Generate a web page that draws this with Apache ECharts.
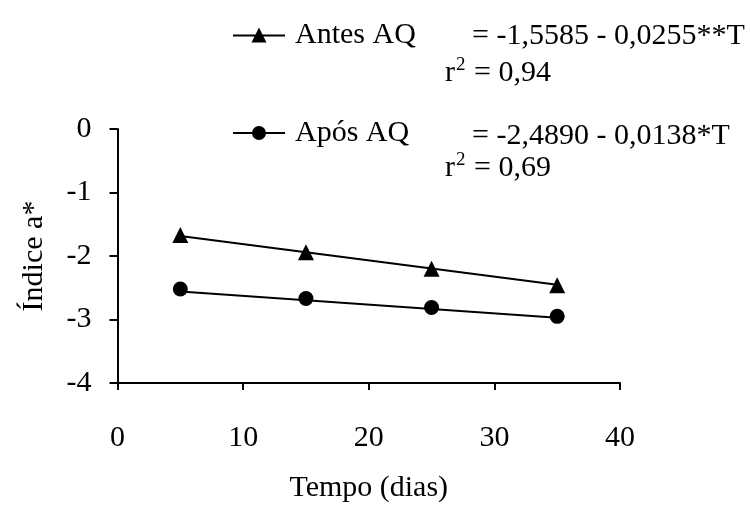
<!DOCTYPE html>
<html>
<head>
<meta charset="utf-8">
<script src="https://cdn.jsdelivr.net/npm/echarts@6/dist/echarts.min.js"></script>
<style>html,body{margin:0;padding:0;background:#fff}#c{width:750px;height:508px}</style>
</head>
<body>
<div id="c"></div>
<script>
var dias = [5, 15, 25, 35];
var antesAQ = [-1.67, -1.94, -2.20, -2.46];
var aposAQ = [-2.52, -2.67, -2.81, -2.95];
var trendX = [5, 35];
var antesTrend = [-1.686, -2.451];
var aposTrend = [-2.558, -2.972];
var xTicks = [0, 10, 20, 30, 40];
var yTicks = [0, -1, -2, -3, -4];
var eqAntes = ['= -1,5585 - 0,0255**T', '0,94'];
var eqApos = ['= -2,4890 - 0,0138*T', '0,69'];

var FONT = "'Liberation Serif', 'Times New Roman', serif";
function pairs(xs, ys) { return xs.map(function (x, i) { return [x, ys[i]]; }); }

var triIcon = 'path://M0,7 L52,7 L52,9 L0,9 Z M26,0 L33.5,15 L18.5,15 Z';
var cirIcon = 'path://M0,6.5 L52,6.5 L52,8.5 L0,8.5 Z M19,7.5 A7,7,0,1,1,33,7.5 A7,7,0,1,1,19,7.5 Z';

var rich = {
  a: {fontFamily: FONT, fontSize: 30, color: '#000', lineHeight: 34},
  s: {fontFamily: FONT, fontSize: 19, color: '#000', verticalAlign: 'top', lineHeight: 34, padding: [0, 1, 0, 1]}
};
function r2Text(v) { return '{a|r}{s|2}{a| = ' + v + '}'; }

var chart = echarts.init(document.getElementById('c'), null, {renderer: 'canvas'});
var legendText = {fontFamily: FONT, fontSize: 30, color: '#000', padding: [0, 0, 0, 5]};
var option = {
  backgroundColor: '#fff',
  animation: false,
  grid: {left: 117.5, right: 130, top: 129, bottom: 119, containLabel: false},
  xAxis: {
    type: 'value', min: xTicks[0], max: xTicks[xTicks.length - 1], interval: 10,
    name: 'Tempo (dias)', nameLocation: 'middle', nameGap: 90,
    nameTextStyle: {fontFamily: FONT, fontSize: 30, color: '#000'},
    axisLine: {show: true, onZero: false, lineStyle: {color: '#000', width: 2}},
    axisTick: {show: true, inside: false, length: 7, lineStyle: {color: '#000', width: 2}},
    axisLabel: {fontFamily: FONT, fontSize: 30, color: '#000', margin: 40},
    splitLine: {show: false}
  },
  yAxis: {
    type: 'value', min: yTicks[yTicks.length - 1], max: yTicks[0], interval: 1,
    name: '\u00CDndice a*', nameLocation: 'middle', nameGap: 68, nameRotate: 90,
    nameTextStyle: {fontFamily: FONT, fontSize: 30, color: '#000'},
    axisLine: {show: true, onZero: false, lineStyle: {color: '#000', width: 2}},
    axisTick: {show: true, inside: false, length: 8, lineStyle: {color: '#000', width: 2}},
    axisLabel: {fontFamily: FONT, fontSize: 30, color: '#000', margin: 26},
    splitLine: {show: false}
  },
  legend: [
    {left: 233, top: 20, padding: 0, itemWidth: 52, itemHeight: 15, orient: 'vertical',
     data: [{name: 'Antes AQ', icon: triIcon}], textStyle: legendText,
     itemStyle: {color: '#000'}},
    {left: 233, top: 118, padding: 0, itemWidth: 52, itemHeight: 15, orient: 'vertical',
     data: [{name: 'Após AQ', icon: cirIcon}], textStyle: legendText,
     itemStyle: {color: '#000'}}
  ],
  graphic: [
    {type: 'text', left: 472, top: 21, style: {text: eqAntes[0], font: '30px ' + FONT, fill: '#000'}},
    {type: 'text', left: 445, top: 56, style: {text: r2Text(eqAntes[1]), rich: rich, fill: '#000'}},
    {type: 'text', left: 472, top: 121, style: {text: eqApos[0], font: '30px ' + FONT, fill: '#000'}},
    {type: 'text', left: 445, top: 151, style: {text: r2Text(eqApos[1]), rich: rich, fill: '#000'}}
  ],
  series: [
    {name: 'Antes AQ trend', type: 'line', data: pairs(trendX, antesTrend), showSymbol: false, symbol: 'none',
     lineStyle: {color: '#000', width: 2}, silent: true, z: 1},
    {name: 'Após AQ trend', type: 'line', data: pairs(trendX, aposTrend), showSymbol: false, symbol: 'none',
     lineStyle: {color: '#000', width: 2}, silent: true, z: 1},
    {name: 'Antes AQ', type: 'scatter', data: pairs(dias, antesAQ), symbol: 'triangle', symbolSize: 16,
     itemStyle: {color: '#000', opacity: 1}, z: 3},
    {name: 'Após AQ', type: 'scatter', data: pairs(dias, aposAQ), symbol: 'circle', symbolSize: 15,
     itemStyle: {color: '#000', opacity: 1}, z: 3}
  ]
};
chart.setOption(option);
</script>
</body>
</html>
